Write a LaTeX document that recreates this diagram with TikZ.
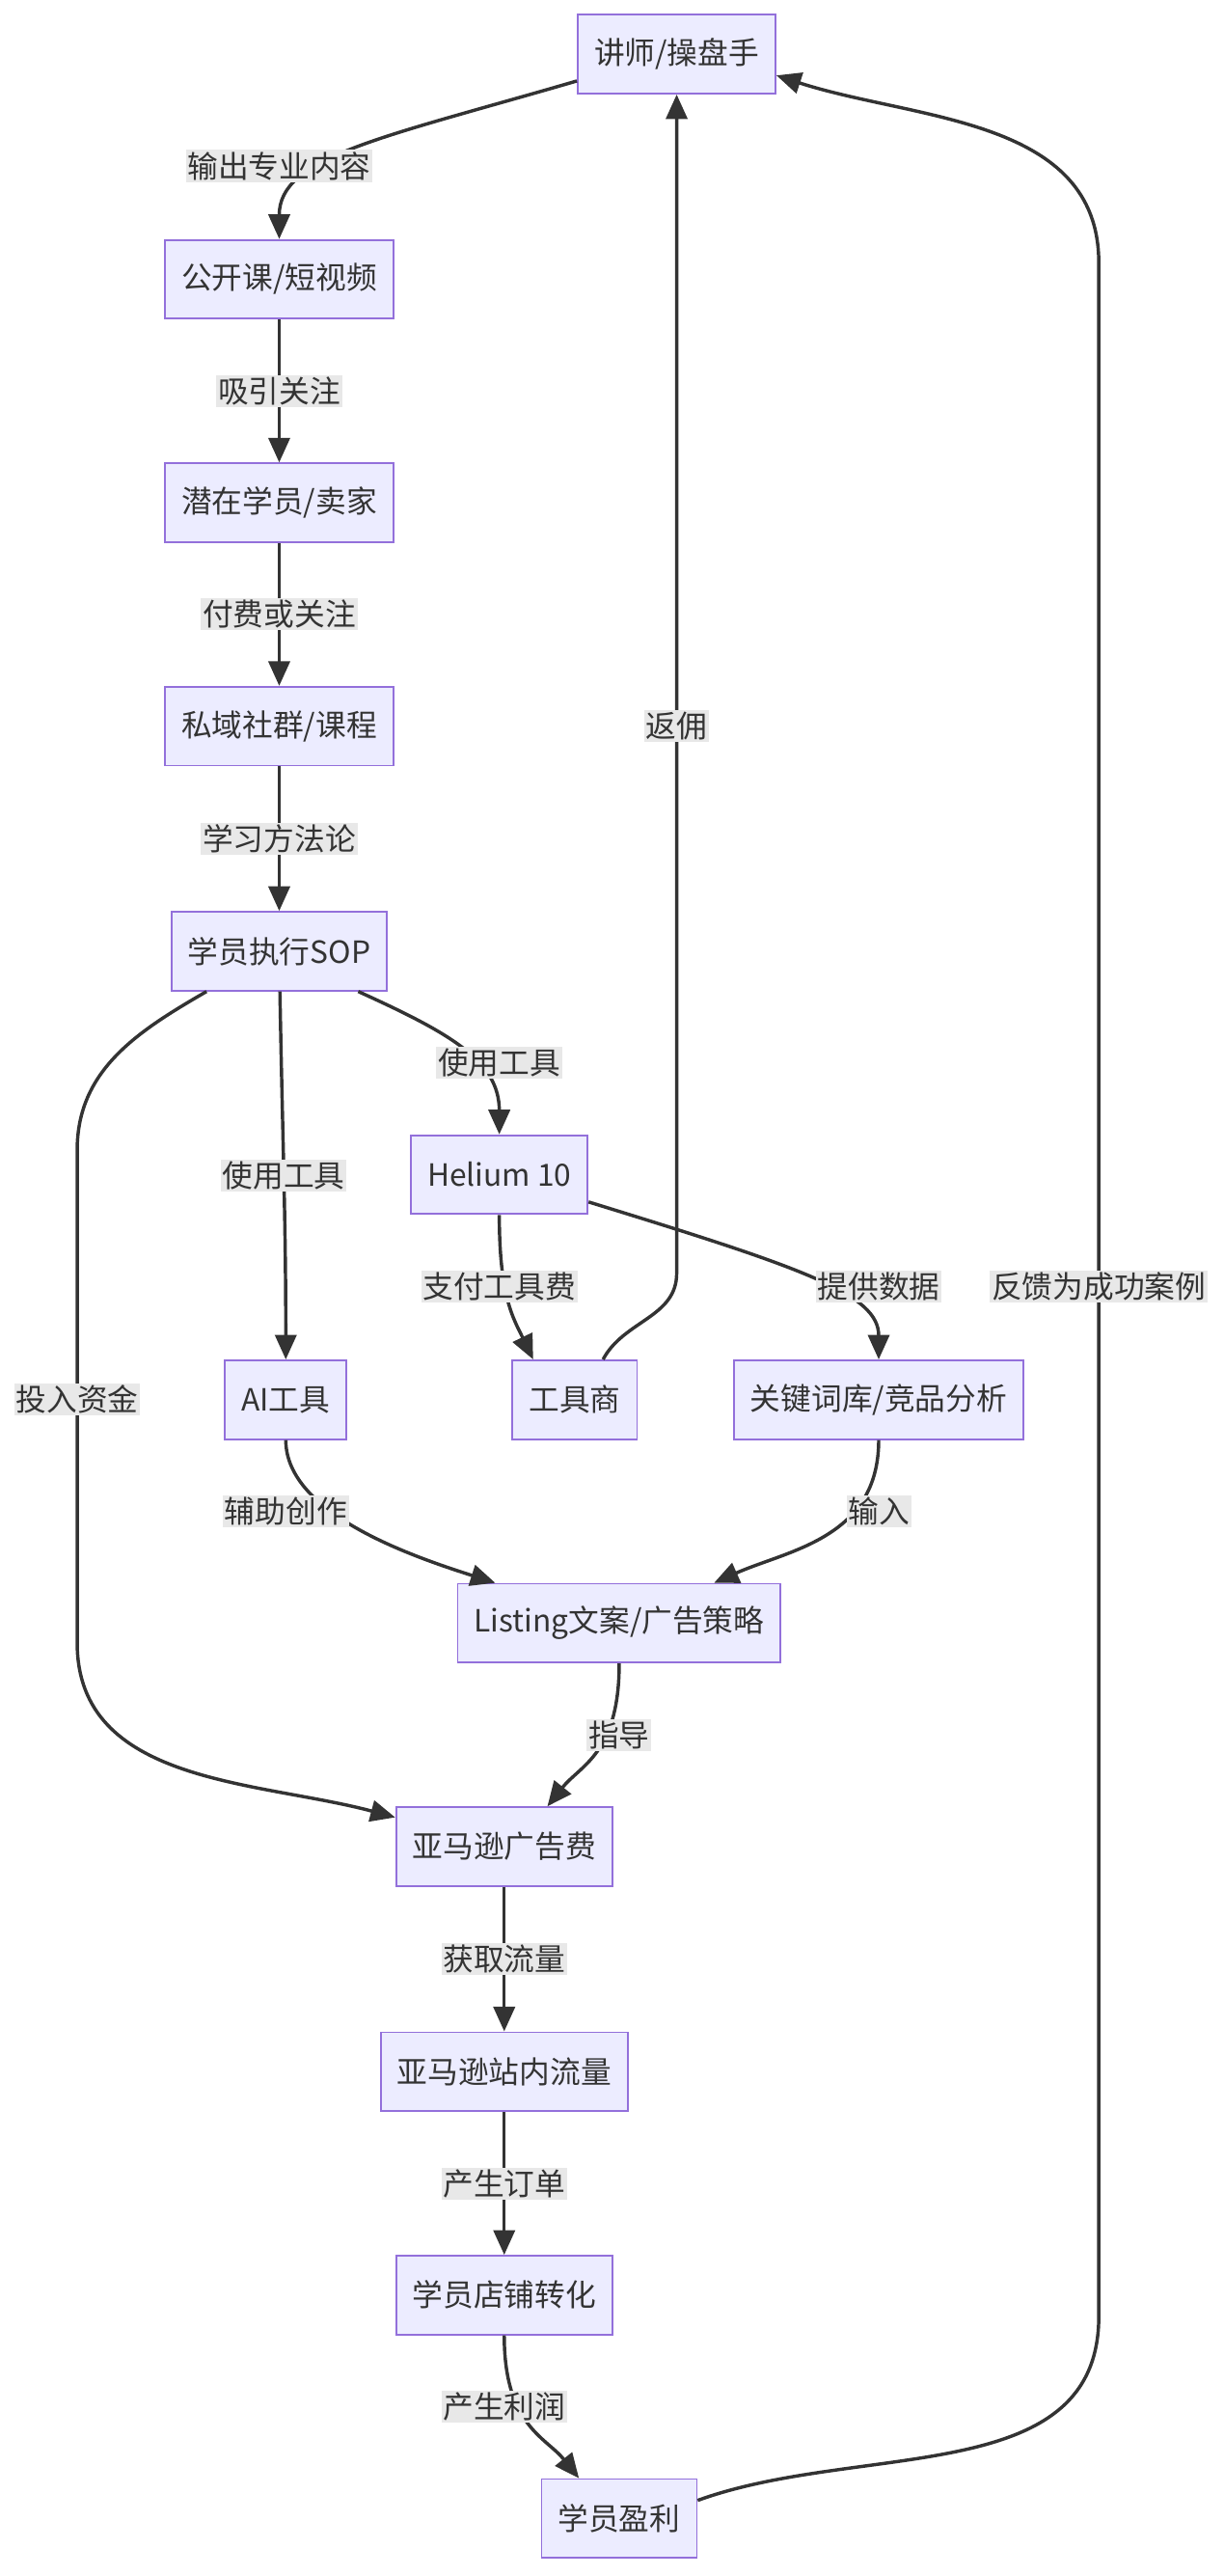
\documentclass[tikz,border=0pt]{standalone}
\usepackage{fontspec}
\setmainfont{Noto Sans CJK SC}
\usepackage{tikz}
\usetikzlibrary{arrows.meta}
\definecolor{boxfill}{HTML}{ECECFF}
\definecolor{boxline}{HTML}{9370DB}
\definecolor{ink}{HTML}{333333}
\definecolor{lblfill}{HTML}{E8E8E8}

\begin{document}
\begin{tikzpicture}[x=0.02cm,y=-0.02cm]
\tikzset{box/.style={draw=boxline,fill=boxfill,line width=0.6pt,rectangle,minimum height=0.96cm,inner xsep=0.2cm,text=ink,font=\fontsize{10.6}{12}\selectfont},
lbl/.style={fill=lblfill,inner sep=0.6pt,text=ink,font=\fontsize{10.6}{12}\selectfont},
arr/.style={draw=ink,line width=1.15pt,-{Triangle[length=0.3cm,width=0.26cm]}}}
\useasboundingbox (0,0) rectangle (745,1568);
\fill[white] (0,0) rectangle (745,1568);
\node (1) at (412,33) [box] {讲师/操盘手};
\node (2) at (170,170) [box] {公开课/短视频};
\node (3) at (170,306) [box] {潜在学员/卖家};
\node (4) at (170,442) [box] {私域社群/课程};
\node (5) at (170,579) [box] {学员执行SOP};
\node (6) at (304,715) [box] {Helium 10};
\node (7) at (174,852) [box] {AI工具};
\node (8) at (350,852) [box] {工具商};
\node (9) at (535,852) [box] {关键词库/竞品分析};
\node (10) at (377,988) [box] {Listing文案/广告策略};
\node (11) at (307,1124) [box] {亚马逊广告费};
\node (12) at (307,1261) [box] {亚马逊站内流量};
\node (13) at (307,1397) [box] {学员店铺转化};
\node (14) at (377,1533) [box] {学员盈利};

\path
(2) edge [arr] node[lbl] {吸引关注} (3)
(3) edge [arr] node[lbl] {付费或关注} (4)
(4) edge [arr] node[lbl] {学习方法论} (5)
(5) edge [arr, out=-89, in=90] node[lbl] {使用工具} (7)
(11) edge [arr] node[lbl] {获取流量} (12)
(12) edge [arr] node[lbl] {产生订单} (13);

\draw[arr] (1.195) .. controls +(-120,35) and +(0,-50) .. (2.north);
\draw[arr] (5.333) .. controls +(55,25) and +(0,-45) .. (6.north);
\draw[arr] (6.south) .. controls +(0,50) and +(-12,-25) .. (8.136);
\draw[arr] (6.343) .. controls +(130,40) and +(0,-40) .. (9.north);
\draw[arr] (8.55) to[out=62,in=-90] (412,775) -- (1.south);
\draw[arr] (14.13) to[out=20,in=-90] (669,1410) -- (669,160) to[out=90,in=-18] (1.348);
\draw[arr] (5.209) to[out=210,in=90] (47,700) -- (47,1000) to[out=-90,in=165] (11.165);
\draw[arr] (7.south) .. controls +(0,45) and +(-50,-16) .. (10.162);
\draw[arr] (9.south) .. controls +(0,60) and +(45,-20) .. (10.23);
\draw[arr] (10.south) .. controls +(0,55) and +(20,-25) .. (11.43);
\draw[arr] (13.south) .. controls +(0,55) and +(-20,-25) .. (14.135);

\node[lbl] (e1) at (170,101) {输出专业内容};
\node[lbl] (e5) at (304,647) {使用工具};
\node[lbl] (e8) at (304,783) {支付工具费};
\node[lbl] (e9) at (535,783) {提供数据};
\node[lbl] (e10) at (412,442) {返佣};
\node[lbl] (e11) at (669,783) {反馈为成功案例};
\node[lbl] (e7) at (47,852) {投入资金};
\node[lbl] (e12) at (174,920) {辅助创作};
\node[lbl] (e13) at (535,920) {输入};
\node[lbl] (e14) at (377,1056) {指导};
\node[lbl] (e17) at (307,1465) {产生利润};
\end{tikzpicture}
\end{document}
